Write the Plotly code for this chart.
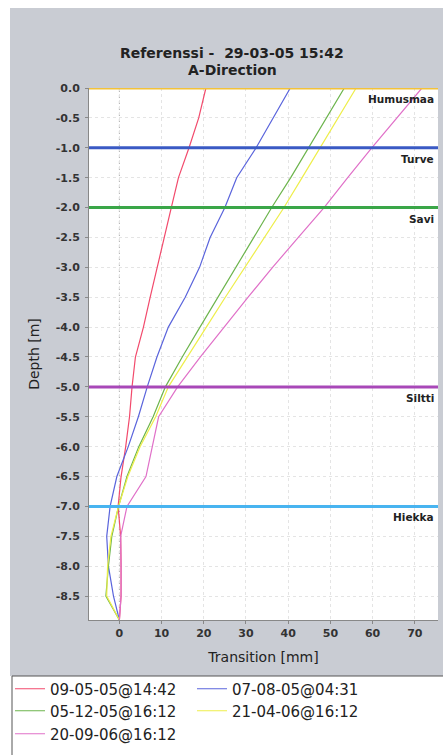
import plotly.graph_objects as go

# ---------------- data ----------------
depth = [0.0, -0.5, -1.0, -1.5, -2.0, -2.5, -3.0, -3.5, -4.0, -4.5, -5.0,
         -5.5, -6.0, -6.5, -7.0, -7.5, -8.0, -8.5, -8.9]

s_090505 = [20.5, 18.8, 16.5, 14.0, 12.3, 10.6, 8.9, 7.3, 5.7, 3.8, 3.0,
            2.4, 1.5, 0.4, -0.3, 0.3, 0.4, 0.4, 0.0]
s_070805 = [40.5, 36.5, 32.4, 27.8, 25.0, 21.5, 19.0, 15.6, 11.6, 8.9, 6.6,
            4.5, 2.1, -0.6, -2.2, -3.0, -2.6, -1.4, 0.0]
s_051205 = [53.3, 49.1, 45.0, 40.6, 36.1, 31.8, 27.6, 23.4, 19.1, 14.9, 10.9,
            8.0, 4.6, 1.8, -0.2, -1.8, -2.6, -3.2, 0.0]
s_210406 = [56.1, 51.9, 47.7, 43.3, 39.0, 34.3, 29.7, 25.1, 20.6, 16.1, 11.6,
            8.6, 4.9, 2.0, -0.2, -2.0, -2.8, -3.0, 0.0]
s_200906 = [71.7, 65.7, 59.8, 54.1, 48.5, 42.4, 36.3, 30.5, 24.8, 19.2, 13.8,
            9.3, 7.8, 6.3, 1.8, 0.3, 0.4, 0.4, 0.0]

series_names = ["09-05-05@14:42", "07-08-05@04:31", "05-12-05@16:12",
                "21-04-06@16:12", "20-09-06@16:12"]
series_values = [s_090505, s_070805, s_051205, s_210406, s_200906]
series_colors = ["#f24a6c", "#5a64dc", "#6cb44c", "#eeee4a", "#e070c8"]

layer_depths = [0.0, -1.0, -2.0, -5.0, -7.0]
layer_names = ["Humusmaa", "Turve", "Savi", "Siltti", "Hiekka"]
layer_colors = ["#f2c23a", "#3a5ac4", "#3aa648", "#a848b8", "#48b4f0"]

title_lines = ["Referenssi -\u00a0\u00a029-03-05 15:42", "A-Direction"]

y_tickvals = [0.0, -0.5, -1.0, -1.5, -2.0, -2.5, -3.0, -3.5, -4.0, -4.5,
              -5.0, -5.5, -6.0, -6.5, -7.0, -7.5, -8.0, -8.5]
y_ticktext = ["0.0", "-0.5", "-1.0", "-1.5", "-2.0", "-2.5", "-3.0", "-3.5",
              "-4.0", "-4.5", "-5.0", "-5.5", "-6.0", "-6.5", "-7.0", "-7.5",
              "-8.0", "-8.5"]
x_tickvals = [0, 10, 20, 30, 40, 50, 60, 70]

# ---------------- layout geometry (px) ----------------
W, H = 443, 755
L, R, T, B = 89, 5, 88, 135
pw, ph = W - L - R, H - T - B


def px_x(px):
    return (px - L) / pw


def px_y(py):
    return (H - B - py) / ph


fig = go.Figure()

legend_ids = ["legend", "legend", "legend2", "legend2", "legend3"]
for name, vals, col, lg in zip(series_names, series_values, series_colors, legend_ids):
    fig.add_trace(go.Scatter(x=vals, y=depth, mode="lines", name=name,
                             line=dict(color=col, width=1.2), legend=lg))

shapes = [
    # grey panel
    dict(type="rect", xref="paper", yref="paper", x0=px_x(10), x1=px_x(460),
         y0=px_y(8), y1=px_y(676), fillcolor="#c9ccd3", line_width=0, layer="below"),
    # white plot area
    dict(type="rect", xref="paper", yref="paper", x0=0, x1=1, y0=0, y1=1,
         fillcolor="white", line_width=0, layer="below"),
    # legend box
    dict(type="rect", xref="paper", yref="paper", x0=px_x(12), x1=px_x(470),
         y0=px_y(676), y1=px_y(770), fillcolor="white",
         line=dict(color="#555555", width=1), layer="below"),
    # dotted zero line
    dict(type="line", xref="x", yref="paper", x0=0, x1=0, y0=0, y1=1,
         line=dict(color="#b0b0b0", width=1, dash="dot"), layer="below"),
]
for d, c in zip(layer_depths, layer_colors):
    shapes.append(dict(type="line", xref="paper", yref="y", x0=0, x1=1, y0=d, y1=d,
                       line=dict(color=c, width=3), layer="above"))

annotations = []
for d, n in zip(layer_depths, layer_names):
    annotations.append(dict(x=0.995, xref="paper", y=d, yref="y", text=n,
                            showarrow=False, xanchor="right", yanchor="top",
                            yshift=-3, font=dict(size=10.5, color="#222222",
                                                 family="DejaVu Sans", weight="bold")))

title_font = dict(family="DejaVu Sans", size=14, color="#222222", weight="bold")
for txt, ypx in zip(title_lines, [53, 70]):
    annotations.append(dict(x=px_x(232), xref="paper", y=px_y(ypx), yref="paper",
                            text=txt, showarrow=False, xanchor="center",
                            yanchor="middle", font=title_font))

tick_font = dict(family="DejaVu Sans", size=11, color="#333333", weight="bold")
leg_font = dict(family="DejaVu Sans", size=15, color="#222222")
axis_title_font = dict(family="DejaVu Sans", size=14, color="#222222")

legend_common = dict(orientation="h", xanchor="left", yanchor="middle",
                     bgcolor="rgba(0,0,0,0)", font=leg_font,
                     entrywidth=137, itemwidth=30, tracegroupgap=0)

fig.update_layout(
    width=W, height=H,
    margin=dict(l=L, r=R, t=T, b=B),
    paper_bgcolor="white",
    plot_bgcolor="white",
    xaxis=dict(range=[-7.2, 75.5], tickvals=x_tickvals, tickfont=tick_font,
               showgrid=True, gridcolor="#e4e4e4", griddash="dot",
               zeroline=False, showline=True, linecolor="#888888", linewidth=1,
               ticks="outside", ticklen=3, tickcolor="#888888",
               title=dict(text="Transition [mm]", standoff=12, font=axis_title_font)),
    yaxis=dict(range=[-8.9, 0.0], tickvals=y_tickvals, ticktext=y_ticktext,
               tickfont=tick_font, showgrid=True, gridcolor="#e4e4e4", griddash="dot",
               zeroline=False, showline=True, linecolor="#888888", linewidth=1,
               ticks="outside", ticklen=3, tickcolor="#888888", ticklabelstandoff=3,
               title=dict(text="Depth [m]", standoff=12, font=axis_title_font)),
    shapes=shapes,
    annotations=annotations,
    legend=dict(x=px_x(10), y=px_y(689), **legend_common),
    legend2=dict(x=px_x(10), y=px_y(711), **legend_common),
    legend3=dict(x=px_x(10), y=px_y(734), **legend_common),
)

fig.write_html(
    "out.html",
    config={"displayModeBar": False},
    post_script="document.body.style.margin='0';document.body.style.overflow='hidden';",
)
